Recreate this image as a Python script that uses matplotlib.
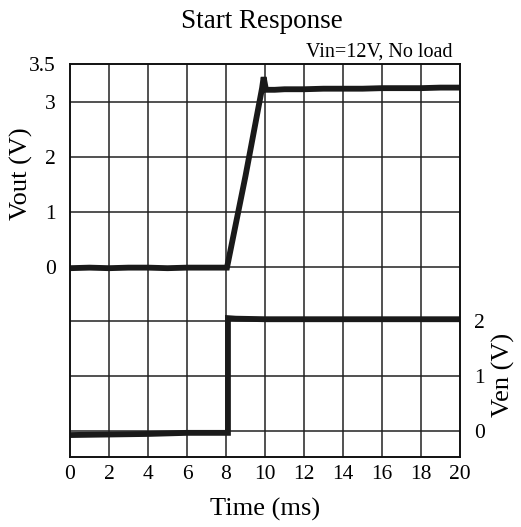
import numpy as np
import matplotlib.pyplot as plt

plt.rcParams['font.family'] = ['Liberation Serif', 'DejaVu Serif']

# Dados (tempo em ms, tensões em V)
t_vout = [0, 1, 2, 3, 4, 5, 6, 7, 8.05, 9.0, 9.85, 9.93, 10.05, 10.5, 11, 12, 13, 14, 15, 16, 17, 18, 19, 20]
vout = [-0.03, -0.02, -0.03, -0.02, -0.02, -0.03, -0.02, -0.02, -0.02, 1.65, 3.25, 3.45, 3.22,
        3.22, 3.23, 3.23, 3.24, 3.24, 3.24, 3.25, 3.25, 3.25, 3.26, 3.26]

t_ven = [0, 2, 4, 6, 8.1, 8.1, 8.5, 10, 12, 14, 16, 18, 20]
ven = [-0.07, -0.06, -0.05, -0.03, -0.03, 2.06, 2.05, 2.04, 2.04, 2.04, 2.04, 2.04, 2.04]

x_ticks = [0, 2, 4, 6, 8, 10, 12, 14, 16, 18, 20]
vout_ticks = [3, 2, 1, 0]
ven_ticks = [0, 1, 2]

# Limites do eixo (grade do osciloscópio)
ylim_vout = (-3.47, 3.69)
offset = 3  # Ven = coordenada Vout + 3

fig = plt.figure(figsize=(5.21, 5.27), dpi=100)
ax = fig.add_axes([70 / 521, 1 - 457 / 527, 390 / 521, 393 / 527])

ax.plot(t_vout, vout, color='#1a1a1a', lw=4.2, solid_joinstyle='miter')
ax.plot(t_ven, [v - offset for v in ven], color='#1a1a1a', lw=4.2, solid_joinstyle='miter')

ax.set_xlim(0, 20)
ax.set_ylim(*ylim_vout)
ax.set_xticks(x_ticks)
ax.set_xticklabels([str(x) for x in x_ticks], fontsize=15.5)

grid_y = [3, 2, 1, 0, -1, -2, -3]
ax.set_yticks([ylim_vout[1]] + vout_ticks)
ax.set_yticklabels(['3.5'] + [str(v) for v in vout_ticks], fontsize=15.5)
ax.tick_params(axis='y', length=0, pad=10)
ax.tick_params(axis='x', length=0, pad=6)

for gy in grid_y:
    ax.axhline(gy, color='#222222', lw=1.1, zorder=0)
for gx in x_ticks[1:-1]:
    ax.axvline(gx, color='#222222', lw=1.1, zorder=0)

for s in ax.spines.values():
    s.set_linewidth(1.4)
    s.set_color('#111111')

ax2 = ax.twinx()
ax2.set_ylim(ylim_vout[0] + offset, ylim_vout[1] + offset)
ax2.set_yticks(ven_ticks)
ax2.set_yticklabels([str(v) for v in ven_ticks], fontsize=15.5)
ax2.tick_params(length=0, pad=10)
for s in ax2.spines.values():
    s.set_visible(False)

ax.set_xlabel('Time (ms)', fontsize=19, labelpad=10)
ax.set_ylabel('Vout (V)', fontsize=19)
ax.yaxis.set_label_coords(-0.095, 0.72)
ax2.set_ylabel('Ven (V)', fontsize=19)
ax2.yaxis.set_label_coords(1.083, 0.21)

fig.text(262 / 521, 1 - 21 / 527, 'Start Response', ha='center', va='center', fontsize=19.5)
fig.text(453 / 521, 1 - 52 / 527, 'Vin=12V, No load', ha='right', va='center', fontsize=14.5)

fig.savefig('out.png', dpi=100)
